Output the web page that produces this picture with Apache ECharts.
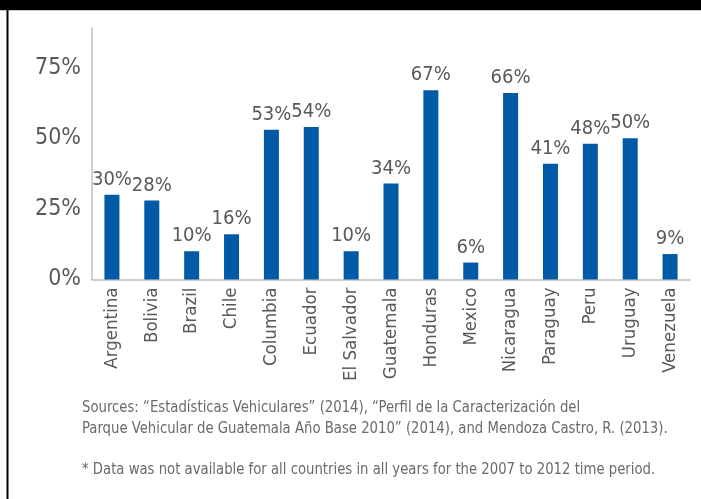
<!DOCTYPE html>
<html>
<head>
<meta charset="utf-8">
<script src="https://cdn.jsdelivr.net/npm/echarts@6/dist/echarts.min.js"></script>
<style>
  html, body { margin: 0; padding: 0; background: #fff; }
  #chart { width: 701px; height: 499px; }
</style>
</head>
<body>
<div id="chart"></div>
<script>
// Share of vehicles by country (percent)
const countries = ['Argentina', 'Bolivia', 'Brazil', 'Chile', 'Columbia', 'Ecuador', 'El Salvador',
  'Guatemala', 'Honduras', 'Mexico', 'Nicaragua', 'Paraguay', 'Peru', 'Uruguay', 'Venezuela'];
const shares = [30, 28, 10, 16, 53, 54, 10, 34, 67, 6, 66, 41, 48, 50, 9];
const yTicks = [0, 25, 50, 75];

const sourceLines = [
  'Sources: \u201cEstad\u00edsticas Vehiculares\u201d (2014), \u201cPerfil de la Caracterizaci\u00f3n del',
  'Parque Vehicular de Guatemala A\u00f1o Base 2010\u201d (2014), and Mendoza Castro, R. (2013).'
];
const footnote = '* Data was not available for all countries in all years for the 2007 to 2012 time period.';

const FONT = "'Liberation Sans Narrow', 'DejaVu Sans Condensed', 'Roboto', sans-serif";
const TEXT = '#595959';
const NOTE = '#6a6a6a';

const chart = echarts.init(document.getElementById('chart'), null, { renderer: 'canvas' });

// narrow-set note text drawn as plain graphic text
function note(str, y) {
  return {
    type: 'text', x: 82, y: y, scaleX: 0.92, silent: true,
    style: { text: str, fill: NOTE, font: '16px ' + FONT, textVerticalAlign: 'middle' }
  };
}

chart.setOption({
  backgroundColor: '#ffffff',
  animation: false,
  grid: { left: 92, right: 11, top: 28, bottom: 219.5, containLabel: false },
  xAxis: {
    type: 'category',
    data: countries,
    axisLine: { show: true, lineStyle: { color: '#bfbfbf', width: 1.5 } },
    axisTick: { show: false },
    axisLabel: {
      rotate: 90,
      interval: 0,
      margin: 8,
      color: TEXT,
      fontFamily: FONT,
      fontSize: 18.5
    }
  },
  yAxis: {
    type: 'value',
    min: 0,
    max: 89,
    interval: 25,
    splitLine: { show: false },
    axisLine: { show: true, lineStyle: { color: '#bfbfbf', width: 1.5 } },
    axisTick: { show: false },
    axisLabel: {
      showMaxLabel: false,
      margin: 11,
      color: TEXT,
      fontFamily: FONT,
      fontSize: 23,
      formatter: v => (yTicks.indexOf(v) >= 0 ? v + '%' : '')
    }
  },
  series: [{
    type: 'bar',
    data: shares,
    barWidth: 15,
    itemStyle: { color: '#005aa5' },
    label: {
      show: true,
      position: 'top',
      distance: 5,
      color: TEXT,
      fontFamily: FONT,
      fontSize: 20,
      formatter: p => p.value + '%'
    }
  }],
  graphic: [
    { type: 'rect', shape: { x: 0, y: 0, width: 701, height: 10 }, style: { fill: '#000' }, silent: true },
    { type: 'line', shape: { x1: 0, y1: 10.5, x2: 701, y2: 10.5 }, style: { stroke: '#c8c8c8', lineWidth: 1 }, silent: true },
    { type: 'rect', shape: { x: 6.5, y: 10, width: 2, height: 489 }, style: { fill: '#000' }, silent: true },
    note(sourceLines[0], 407.5),
    note(sourceLines[1], 429),
    note(footnote, 470)
  ]
});
</script>
</body>
</html>
